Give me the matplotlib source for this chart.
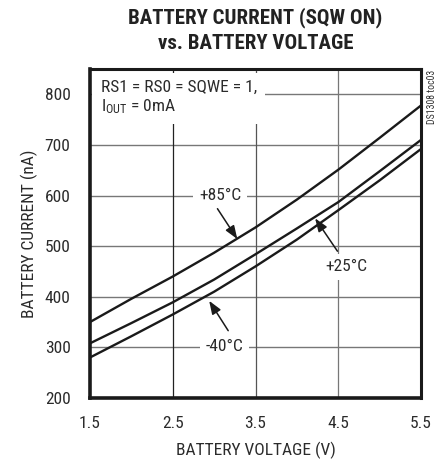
import matplotlib
matplotlib.use("Agg")
import matplotlib.pyplot as plt

voltage = [1.5, 2.0, 2.5, 3.0, 3.5, 4.0, 4.5, 5.0, 5.5]
i_85 = [350, 396, 440, 487, 537, 592, 651, 714, 778]
i_25 = [308, 348, 389, 434, 484, 535, 587, 648, 710]
i_m40 = [280, 322, 365, 410, 460, 513, 571, 630, 692]
x_ticks = [1.5, 2.5, 3.5, 4.5, 5.5]
x_tick_labels = ['1.5', '2.5', '3.5', '4.5', '5.5']
y_ticks = [200, 300, 400, 500, 600, 700, 800]

plt.rcParams['font.family'] = ['Roboto Condensed', 'DejaVu Sans']
TXT = '#2b2b2b'
FS = 12.5

fig = plt.figure(figsize=(4.45, 4.63), dpi=100)
ax = fig.add_axes([0.2022, 0.1404, 0.744, 0.7106])

for series in (i_85, i_25, i_m40):
    ax.plot(voltage, series, color='#1a1a1a', lw=1.7, zorder=3)

ax.set_xlim(1.5, 5.5)
ax.set_ylim(200, 850)
ax.set_xticks(x_ticks)
ax.set_xticklabels(x_tick_labels)
ax.set_yticks(y_ticks)
ax.tick_params(length=0, labelsize=FS, colors=TXT)
ax.tick_params(axis='y', pad=14)
ax.tick_params(axis='x', pad=13)

for y in y_ticks[1:]:
    ax.axhline(y, color='#777777', lw=1.0, zorder=1)
ax.axvline(2.5, color='#222222', lw=0.9, zorder=1)
ax.axvline(3.5, color='#555555', lw=0.9, zorder=1)
ax.axvline(4.5, color='#777777', lw=0.9, zorder=1)

for name, s in ax.spines.items():
    s.set_linewidth(2.6 if name in ('left', 'bottom') else 2.2)
    s.set_color('#1a1a1a')

ax.set_xlabel('BATTERY VOLTAGE (V)', fontsize=FS, color=TXT, labelpad=8)
ax.set_ylabel('BATTERY CURRENT (nA)', fontsize=FS, color=TXT, labelpad=5)

fig.text(0.574, 0.985, 'BATTERY CURRENT (SQW ON)\nvs. BATTERY VOLTAGE', ha='center', va='top',
         fontsize=15, fontweight='bold', color='#222222', linespacing=1.45)

ax.text(1.63, 829, 'RS1 = RS0 = SQWE = 1,\n$\\mathregular{I_{OUT}}$ = 0mA', ha='left', va='top',
        fontsize=FS, color=TXT, linespacing=1.2, zorder=4,
        bbox=dict(facecolor='white', edgecolor='none', pad=6))

bb = dict(facecolor='white', edgecolor='none', pad=4)
arrow = dict(arrowstyle='-|>,head_length=0.8,head_width=0.3', color='#1a1a1a', lw=1.1, shrinkA=0, shrinkB=0)
ax.text(3.07, 600, '+85°C', ha='center', va='center', fontsize=FS, color=TXT, bbox=bb, zorder=4)
ax.annotate('', xy=(3.28, 514), xytext=(3.04, 574), arrowprops=arrow, zorder=4)
ax.text(4.6, 459, '+25°C', ha='center', va='center', fontsize=FS, color=TXT, bbox=bb, zorder=4)
ax.annotate('', xy=(4.22, 555), xytext=(4.49, 490), arrowprops=arrow, zorder=4)
ax.text(3.13, 302, '-40°C', ha='center', va='center', fontsize=FS, color=TXT, bbox=bb, zorder=4)
ax.annotate('', xy=(2.94, 392), xytext=(3.17, 333), arrowprops=arrow, zorder=4)

fig.text(0.971, 0.79, 'DS1308 toc03', rotation=90, ha='center', va='center', fontsize=7, color='#333333')

fig.savefig('out.png', dpi=100)
